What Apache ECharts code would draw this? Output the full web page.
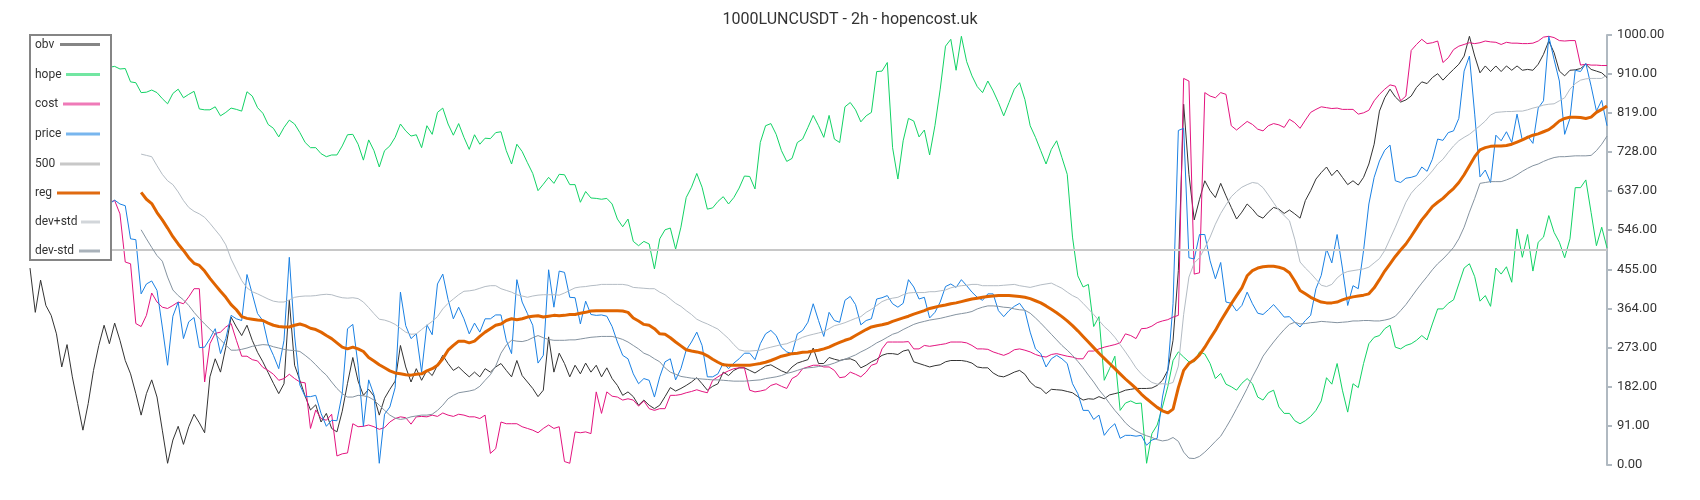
<!DOCTYPE html>
<html><head><meta charset="utf-8">
<script src="https://cdn.jsdelivr.net/npm/echarts@6/dist/echarts.min.js"></script>
<style>html,body{margin:0;padding:0;background:#fff}#c{width:1700px;height:500px}</style>
</head><body><div id="c"></div>
<script>
const titleText = '1000LUNCUSDT - 2h - hopencost.uk';
const seriesNames = ['obv','hope','cost','price','500','reg','dev+std','dev-std'];
const yTickInterval = 91;
const yMax = 1000;
const level500 = 500;

const obv = [458,355,430,371,348,305,228,280,205,143,
81,143,220,278,325,282,330,290,243,212,
166,116,166,198,158,81,4,58,90,48,
89,118,98,75,205,247,216,274,344,321,
301,325,290,262,240,215,190,166,189,383,
232,197,160,128,140,100,120,85,77,125,
190,250,195,162,176,160,116,155,176,195,
278,228,193,224,197,220,208,232,255,236,
220,228,216,205,216,205,224,216,228,236,
220,205,243,208,193,178,159,174,298,216,
260,236,205,232,212,237,216,232,205,226,
201,185,162,170,159,139,151,139,131,139,
159,180,172,178,185,193,203,189,174,183,
189,216,208,220,226,226,220,214,222,230,
233,226,219,214,228,237,241,245,272,236,
236,250,246,243,246,247,242,226,232,240,
246,255,259,259,257,265,268,240,236,232,
228,231,233,240,243,243,243,241,237,228,
226,226,214,207,205,210,216,220,211,193,
182,178,166,176,175,174,171,168,159,151,
154,153,159,154,163,166,169,174,176,178,
178,178,179,185,197,220,290,452,839,676,
570,618,661,638,622,655,626,599,572,588,
607,595,580,574,588,599,595,585,593,584,
574,615,638,665,680,693,673,686,669,652,
661,651,669,700,746,823,854,874,856,844,
849,858,878,891,887,901,910,895,908,920,
932,951,997,951,912,928,915,928,915,928,
918,928,918,920,918,932,955,986,959,916,
905,918,919,922,932,920,916,912,901];

const hope = [930,932,928,935,930,926,930,934,929,925,
930,928,932,927,926,925,927,921,922,891,
889,866,867,872,866,852,840,864,874,854,
862,869,828,826,826,833,812,820,830,827,
823,868,858,831,818,792,783,763,785,802,
793,773,750,738,738,724,717,721,721,742,
768,769,746,709,756,731,693,731,742,762,
793,777,765,768,738,789,769,820,830,793,
767,794,762,734,768,746,760,759,773,775,
731,700,746,729,703,678,638,653,669,655,
676,675,652,652,611,636,621,620,618,620,
607,572,554,572,520,510,520,514,456,526,
547,551,502,553,622,646,678,646,595,598,
613,624,607,622,644,672,671,642,750,789,
794,769,731,706,713,750,758,785,813,789,
762,813,758,750,833,843,826,798,812,820,
915,916,936,738,665,754,806,800,763,779,
721,789,874,974,990,918,997,938,905,880,
866,893,870,843,812,843,874,889,850,789,
762,731,700,734,754,715,676,530,440,414,
420,322,345,197,224,253,127,144,149,143,
144,4,73,93,135,182,243,263,251,240,
240,263,258,236,201,213,188,182,174,190,
201,189,158,151,168,174,135,120,120,103,
96,103,113,127,149,203,188,236,174,123,
189,180,236,282,297,301,317,325,274,270,
278,282,290,301,291,328,363,363,376,384,
421,458,468,438,381,394,369,458,444,461,
425,549,483,536,451,518,530,580,541,518,
482,526,645,645,663,587,510,553,505];

const cost = [620,625,618,622,630,626,620,615,622,618,
612,616,620,614,610,611,615,584,472,468,
329,322,348,400,379,367,364,371,379,375,
391,410,410,193,282,306,309,321,329,290,
253,253,245,242,227,220,211,197,201,211,
201,193,191,85,128,108,104,118,21,26,
28,96,89,90,93,89,83,87,100,108,
112,110,95,112,113,112,116,113,121,116,
113,118,116,112,112,108,116,27,38,100,
96,96,96,89,85,81,75,85,93,85,
89,8,4,77,75,77,73,170,120,170,
160,158,151,154,151,137,149,131,127,131,
131,162,162,164,168,171,175,171,168,197,
205,213,219,224,226,226,174,170,172,175,
185,189,183,178,201,208,224,228,232,232,
228,228,220,203,205,216,211,205,216,232,
236,270,286,286,286,286,287,270,270,278,
276,278,280,282,286,286,286,284,278,270,
270,269,263,259,255,260,268,270,267,263,
257,253,251,257,259,256,253,251,247,247,
265,265,270,274,277,280,284,305,301,294,
317,318,323,331,335,338,344,348,899,893,
444,447,866,858,854,866,862,789,779,789,
799,792,781,777,789,794,791,785,804,796,
783,802,820,827,833,831,829,830,827,827,
827,816,819,825,847,862,874,884,881,847,
858,964,978,990,980,982,986,936,947,966,
974,978,982,980,982,986,984,983,978,983,
981,981,980,980,981,986,995,997,994,987,
986,987,987,930,932,930,930,929,929];

const price = [600,605,610,598,602,612,606,600,595,604,
608,600,603,606,605,607,616,607,603,526,
524,398,421,428,406,321,232,346,379,294,
333,343,273,274,294,317,259,294,348,340,
336,443,398,352,336,282,255,224,290,483,
300,186,159,159,162,120,90,104,103,166,
317,327,232,90,198,163,4,118,135,180,
402,324,294,305,216,326,303,421,444,385,
340,367,340,305,330,309,340,340,349,349,
290,259,431,379,352,325,237,255,454,367,
451,448,390,389,328,381,350,348,349,346,
322,286,255,247,212,189,201,197,158,205,
240,247,198,224,267,286,309,278,205,205,
212,237,224,237,247,260,260,245,282,305,
313,301,274,263,259,305,313,332,375,336,
299,355,336,332,383,392,373,326,336,340,
386,389,394,375,367,376,431,414,386,390,
342,355,379,415,421,413,431,417,402,390,
383,398,398,359,345,359,369,376,359,309,
270,259,228,247,255,247,236,189,166,127,
127,106,116,69,85,96,62,69,69,67,
69,46,58,62,158,220,375,778,783,482,
479,536,536,475,433,471,379,376,358,371,
402,375,353,350,361,373,359,344,345,332,
321,336,348,410,441,502,470,536,458,371,
417,410,499,607,669,707,732,744,661,657,
667,669,673,693,683,711,758,755,773,777,
806,916,951,816,670,686,657,767,754,775,
750,816,755,765,748,830,847,997,943,893,
769,806,918,915,934,881,823,848,789];

const reg = [null,null,null,null,null,null,null,null,null,null,
null,null,null,null,null,null,null,null,null,null,
null,634,618,608,587,570,551,531,514,499,
482,469,464,451,434,419,404,390,373,361,
345,341,339,337,336,330,325,322,321,321,
325,328,324,318,315,309,301,294,284,274,
270,274,270,264,250,242,233,226,219,214,
212,210,209,211,212,219,224,232,247,267,
278,288,288,284,288,299,309,317,325,328,
336,340,338,340,344,346,347,344,346,348,
347,348,350,350,353,355,358,359,359,359,
359,359,358,355,342,335,327,325,317,305,
304,296,286,277,268,265,263,260,254,246,
239,233,232,232,232,232,232,234,236,239,
243,248,253,256,259,260,262,263,265,267,
270,274,280,285,290,294,301,308,315,321,
324,326,329,334,338,342,346,351,355,359,
364,367,370,372,375,377,380,383,386,388,
390,392,393,394,394,394,393,392,390,387,
382,377,370,362,354,345,335,324,312,299,
286,273,260,248,236,224,212,200,189,178,
165,154,144,134,126,121,130,180,220,236,
244,256,274,294,313,335,355,375,394,412,
440,452,458,461,462,462,460,456,447,428,
406,398,390,384,379,377,377,379,384,388,
391,393,395,398,412,431,451,468,485,500,
514,532,551,570,585,601,611,620,632,643,
657,675,696,717,733,738,741,742,742,743,
746,751,756,762,767,770,775,780,789,800,
806,809,809,808,806,809,820,827,835];

const devPlus = [null,null,null,null,null,null,null,null,null,null,
null,null,null,null,null,null,null,null,null,null,
null,723,720,717,696,676,661,652,635,615,
599,590,584,576,562,547,532,512,479,454,
429,412,403,398,392,386,381,379,379,384,
390,392,393,393,394,396,397,396,392,389,
388,389,387,379,366,352,339,337,333,327,
318,309,304,305,315,325,334,345,363,376,
386,396,404,405,407,411,415,417,417,410,
406,402,396,393,390,393,395,396,396,396,
395,400,406,412,414,415,417,418,420,420,
420,420,420,418,413,412,411,410,410,402,
396,386,376,369,359,350,339,333,328,322,
316,305,294,280,268,265,265,266,267,271,
274,277,280,282,287,291,297,301,304,307,
310,317,324,327,331,336,341,345,355,362,
371,380,385,388,390,396,400,401,401,401,
403,403,405,407,412,415,417,418,420,420,
417,417,417,417,418,419,420,417,415,413,
416,419,421,423,417,411,402,394,388,376,
363,350,336,322,311,297,280,263,245,226,
212,201,192,188,189,188,192,230,350,437,
470,482,505,530,560,585,605,624,636,646,
652,657,655,645,628,610,592,580,568,525,
472,458,446,432,418,415,420,435,445,450,
452,454,456,460,470,480,499,526,553,582,
611,632,646,657,670,684,700,711,727,742,
754,762,769,779,789,800,814,820,821,822,
822,823,823,826,830,833,837,839,840,847,
854,874,887,895,898,899,899,899,907];

const devMinus = [null,null,null,null,null,null,null,null,null,null,
null,null,null,null,null,null,null,null,null,null,
null,547,526,506,487,474,437,407,394,384,
371,355,341,328,316,304,291,279,267,267,
269,272,276,278,280,279,275,272,269,267,
266,264,255,245,233,220,209,193,178,166,
158,158,162,161,158,151,139,127,116,109,
106,108,112,114,116,116,118,127,139,154,
162,168,170,172,175,183,197,210,230,260,
279,290,288,287,290,296,301,296,292,290,
290,290,291,291,293,295,297,298,299,299,
299,296,292,286,278,270,260,255,247,240,
226,216,211,206,204,202,201,200,199,198,
198,197,196,195,195,195,196,197,198,201,
203,205,208,213,216,220,224,226,227,229,
231,233,237,242,246,251,256,263,269,276,
284,290,297,304,308,315,321,327,331,334,
337,339,341,344,347,350,352,354,357,363,
367,370,370,369,367,366,363,361,360,353,
342,330,317,304,291,278,267,255,241,226,
209,193,175,160,143,127,113,98,87,79,
73,68,64,59,56,58,64,55,30,16,
15,20,30,42,55,67,87,108,131,154,
178,205,228,253,270,286,301,315,327,332,
328,329,331,332,334,333,332,331,332,333,
335,335,336,336,335,335,337,340,346,359,
373,390,407,423,438,454,468,479,492,506,
526,553,588,620,655,657,659,659,659,663,
668,675,683,690,696,700,706,711,715,717,
717,718,719,719,719,720,731,746,765];

const categories = obv.map((_, i) => i);
const line500 = categories.map(() => level500);

const lineColors = ['#333333','#12d265','#e3147f','#1a80e3','#c8c8c8','#e06400','#b4bcc4','#8593a0'];
const legendColors = ['#858585','#72e6a2','#ef7ab8','#78b6ee','#c8c8c8','#e06a10','#d2d6da','#a9b2ba'];
const lineWidths = [1,1,1,1,2,3,1,1];
const seriesData = [obv, hope, cost, price, line500, reg, devPlus, devMinus];

const chart = echarts.init(document.getElementById('c'), null, {renderer: 'canvas'});

const legendRows = [44.5, 74.5, 104, 134, 164, 193, 222, 251];
const legendIconStart = [60, 66, 63, 66, 60, 57, 81, 79];
const legendEls = [{
  type: 'rect', z: 100, zlevel: 1, shape: {x: 30, y: 35, width: 81, height: 225},
  style: {fill: '#fff', stroke: '#858585', lineWidth: 2}
}];
seriesNames.forEach((n, i) => {
  legendEls.push({type: 'text', z: 101, zlevel: 1, x: 35, y: legendRows[i],
    style: {text: n, fill: '#333', font: '12px Roboto', verticalAlign: 'middle', align: 'left'}});
  legendEls.push({type: 'line', z: 101, zlevel: 1, shape: {x1: legendIconStart[i], y1: legendRows[i], x2: 100, y2: legendRows[i]},
    style: {stroke: legendColors[i], lineWidth: 3}});
});

chart.setOption({
  animation: false,
  backgroundColor: '#fff',
  textStyle: {fontFamily: 'Roboto'},
  title: {text: titleText, left: 'center', top: 12, padding: 0,
    textStyle: {fontSize: 16, fontWeight: 'normal', color: '#333', fontFamily: 'Roboto'}},
  grid: {left: 30, right: 93, top: 35, bottom: 35},
  xAxis: {type: 'category', data: categories, boundaryGap: false, show: false},
  yAxis: {type: 'value', position: 'right', min: 0, max: yMax, interval: yTickInterval,
    axisLine: {show: true, lineStyle: {color: '#b0b9c1', width: 2}},
    axisTick: {show: true, length: 5, lineStyle: {color: '#b0b9c1', width: 2}},
    axisLabel: {margin: 10, fontSize: 13, color: '#333', fontFamily: 'Roboto',
      formatter: v => v.toFixed(2)},
    splitLine: {show: false}},
  series: seriesNames.map((n, i) => ({
    name: n, type: 'line', data: seriesData[i], showSymbol: false, symbol: 'none',
    connectNulls: false, silent: true,
    lineStyle: {color: lineColors[i], width: lineWidths[i]},
    itemStyle: {color: lineColors[i]},
    emphasis: {disabled: true}
  })),
  graphic: legendEls
});
</script>
</body></html>
